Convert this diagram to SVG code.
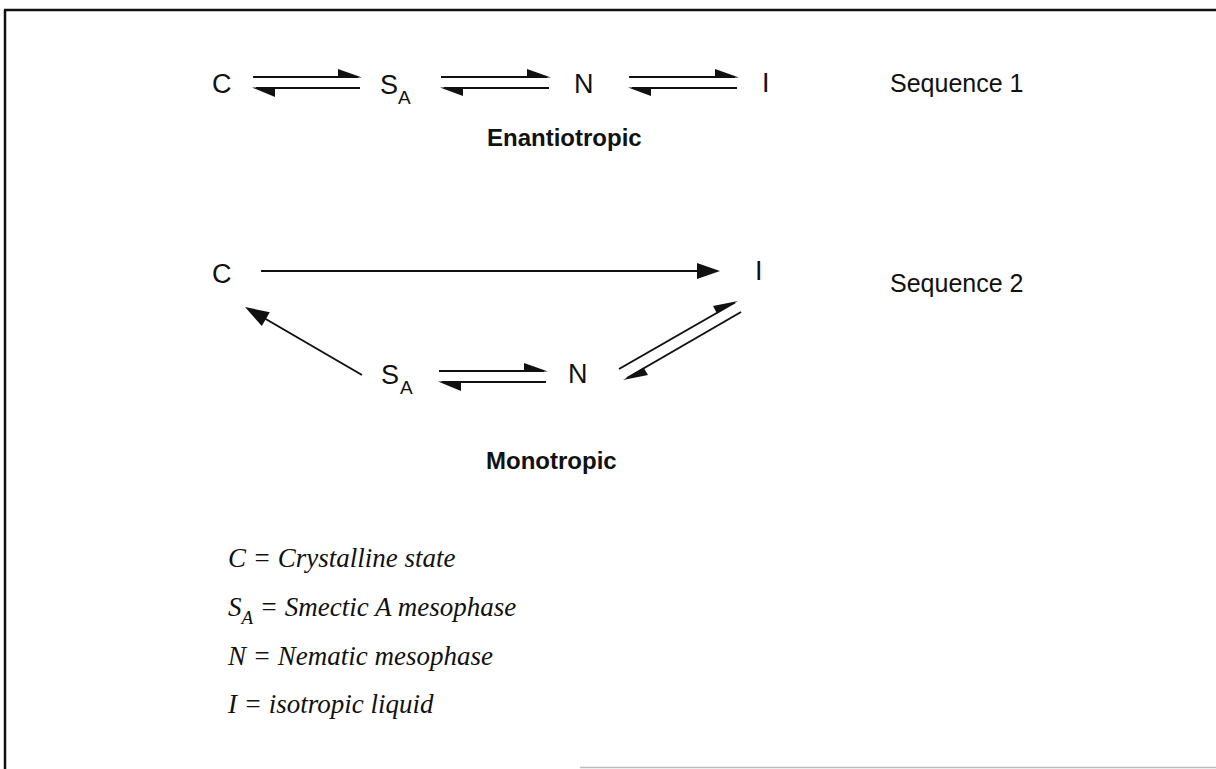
<svg xmlns="http://www.w3.org/2000/svg" width="1216" height="769" viewBox="0 0 1216 769">
<style>
.lbl{font-family:"Liberation Sans",Arial,sans-serif;font-size:27px;fill:#111}
.sub{font-family:"Liberation Sans",Arial,sans-serif;font-size:19px;fill:#111}
.seq{font-family:"Liberation Sans",Arial,sans-serif;font-size:25px;fill:#111}
.bold{font-family:"Liberation Sans",Arial,sans-serif;font-size:24px;font-weight:bold;fill:#111}
.leg{font-family:"Liberation Serif","Times New Roman",serif;font-size:27px;font-style:italic;fill:#111}
.legsub{font-family:"Liberation Serif","Times New Roman",serif;font-size:19px;font-style:italic;fill:#111}
.ln{stroke:#111;stroke-width:2;fill:none}
.hd{fill:#111;stroke:none}
</style>
<rect width="1216" height="769" fill="#fff"/>
<g id="frame">
<line x1="4" y1="10" x2="1216" y2="10" stroke="#111" stroke-width="2.5"/>
<line x1="5" y1="10" x2="5" y2="769" stroke="#111" stroke-width="2.5"/>
<line x1="580" y1="767.5" x2="1216" y2="767.5" stroke="#bbb" stroke-width="1.5"/>
</g>
<g id="seq1-C"><text class="lbl" x="212" y="93">C</text></g>
<g id="seq1-SA"><text class="lbl" x="380" y="94">S</text><text class="sub" x="398" y="104">A</text></g>
<g id="seq1-N"><text class="lbl" x="574" y="93">N</text></g>
<g id="seq1-I"><text class="lbl" x="762" y="92">I</text></g>
<g id="seq1-label"><text class="seq" x="890" y="92">Sequence 1</text></g>
<g id="enantiotropic"><text class="bold" x="487" y="146">Enantiotropic</text></g>
<g id="seq2-C"><text class="lbl" x="212" y="283">C</text></g>
<g id="seq2-I"><text class="lbl" x="755" y="280">I</text></g>
<g id="seq2-SA"><text class="lbl" x="381" y="384">S</text><text class="sub" x="400" y="394">A</text></g>
<g id="seq2-N"><text class="lbl" x="568" y="383">N</text></g>
<g id="seq2-label"><text class="seq" x="890" y="292">Sequence 2</text></g>
<g id="monotropic"><text class="bold" x="486" y="469">Monotropic</text></g>
<g id="legend">
<text class="leg" x="228" y="567">C = Crystalline state</text>
<text class="leg" x="228" y="616">S<tspan class="legsub" dy="8">A</tspan><tspan dy="-8"> = Smectic A mesophase</tspan></text>
<text class="leg" x="228" y="665">N = Nematic mesophase</text>
<text class="leg" x="228" y="713">I = isotropic liquid</text>
</g>
<g id="connectors">
<line class="ln" x1="253" y1="77" x2="358" y2="77"/><polygon class="hd" points="338,69 362,77.5 338,78"/>
<line class="ln" x1="256" y1="88" x2="360" y2="88"/><polygon class="hd" points="252,87.5 275,87 275,97"/>
<line class="ln" x1="441" y1="77" x2="547" y2="77"/><polygon class="hd" points="527,69 551,77.5 527,78"/>
<line class="ln" x1="444" y1="88" x2="549" y2="88"/><polygon class="hd" points="440,87.5 463,87 463,96"/>
<line class="ln" x1="629" y1="77" x2="735" y2="77"/><polygon class="hd" points="715,69 739,77.5 715,78"/>
<line class="ln" x1="632" y1="88" x2="737" y2="88"/><polygon class="hd" points="628,87.5 651,87 651,96"/>
<line class="ln" x1="261" y1="271" x2="700" y2="271"/><polygon class="hd" points="697,263 720,271 697,279"/>
<line class="ln" x1="362" y1="375" x2="264" y2="318"/><polygon class="hd" points="245,307 269.8,312.2 261.8,326"/>
<line class="ln" x1="439" y1="371" x2="544" y2="371"/><polygon class="hd" points="524,363 548,371.5 524,372"/>
<line class="ln" x1="442" y1="382" x2="546" y2="382"/><polygon class="hd" points="438,381.5 461,381 461,391"/>
<line class="ln" x1="619" y1="369" x2="735" y2="302.5"/><polygon class="hd" points="738,301 717,313.5 713,306"/>
<line class="ln" x1="627" y1="378" x2="741" y2="312"/><polygon class="hd" points="623,380 643.5,367.5 648,375"/>
</g>
</svg>
